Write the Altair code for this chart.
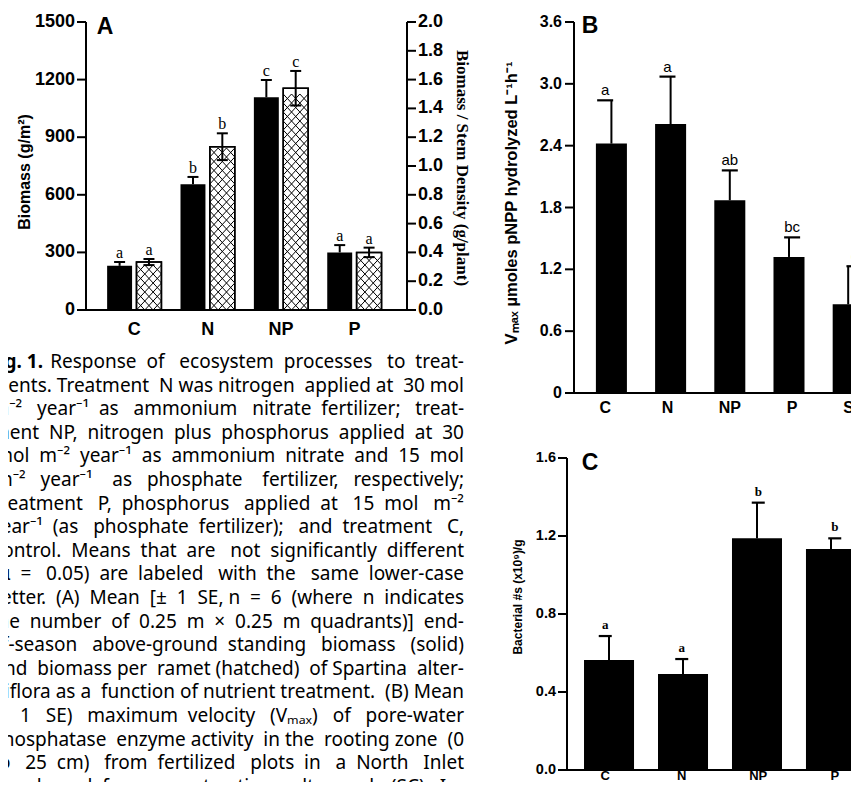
import altair as alt
import pandas as pd

W, H = 843, 774

# ---------------- data ----------------
catsA = ["C", "N", "NP", "P"]
biomass = [230, 655, 1108, 300]
biomass_se = [20, 38, 90, 38]
ratio = [0.333, 1.134, 1.54, 0.40]
ratio_se = [0.021, 0.093, 0.12, 0.033]
lettersA_solid = ["a", "b", "c", "a"]
lettersA_hatched = ["a", "b", "c", "a"]
ticksA_left = [0, 300, 600, 900, 1200, 1500]
ticksA_right = [0.0, 0.2, 0.4, 0.6, 0.8, 1.0, 1.2, 1.4, 1.6, 1.8, 2.0]
ticksA_right_labels = ["0.0", "0.2", "0.4", "0.6", "0.8", "1.0", "1.2", "1.4", "1.6", "1.8", "2.0"]

catsB = ["C", "N", "NP", "P", "SC"]
vmax = [2.42, 2.61, 1.87, 1.32, 0.86]
vmax_se = [0.42, 0.46, 0.29, 0.19, 0.37]
lettersB = ["a", "a", "ab", "bc", "c"]
ticksB = [0, 0.6, 1.2, 1.8, 2.4, 3.0, 3.6]
ticksB_labels = ["0", "0.6", "1.2", "1.8", "2.4", "3.0", "3.6"]

catsC = ["C", "N", "NP", "P"]
bacteria = [0.564, 0.492, 1.188, 1.133]
bacteria_se = [0.123, 0.077, 0.183, 0.055]
lettersC = ["a", "a", "b", "b"]
ticksC = [0.0, 0.4, 0.8, 1.2, 1.6]
ticksC_labels = ["0.0", "0.4", "0.8", "1.2", "1.6"]

caption_head = "Fig. 1."
caption_lines = [
    "Response of ecosystem processes to treat-",
    "ments. Treatment N was nitrogen applied at 30 mol",
    "m\u207b\u00b2 year\u207b\u00b9 as ammonium nitrate fertilizer; treat-",
    "ment NP, nitrogen plus phosphorus applied at 30",
    "mol m\u207b\u00b2 year\u207b\u00b9 as ammonium nitrate and 15 mol",
    "m\u207b\u00b2 year\u207b\u00b9 as phosphate fertilizer, respectively;",
    "treatment P, phosphorus applied at 15 mol m\u207b\u00b2",
    "year\u207b\u00b9 (as phosphate fertilizer); and treatment C,",
    "control. Means that are not significantly different",
    "(\u03b1 = 0.05) are labeled with the same lower-case",
    "letter. (A) Mean [\u00b1 1 SE, n = 6 (where n indicates",
    "the number of 0.25 m \u00d7 0.25 m quadrants)] end-",
    "of-season above-ground standing biomass (solid)",
    "and biomass per ramet (hatched) of Spartina alter-",
    "niflora as a function of nutrient treatment. (B) Mean",
    "(\u00b1 1 SE) maximum velocity (V\u2098\u2090\u2093) of pore-water",
    "phosphatase enzyme activity in the rooting zone (0",
    "to 25 cm) from fertilized plots in a North Inlet",
    "marsh and from a contrasting salt marsh (SC). In-",
]

# ---------------- layout ----------------
A_left, A_right, A_bottom, A_top = 78, 399, 302, 14
B_left, B_bottom, B_top = 566, 385, 14
C_left, C_bottom, C_top = 559, 762, 450
SANS = "Liberation Sans"
SERIF = "Liberation Serif"
CAP_FONT = "Noto Sans"
CAP_SIZE = 19
CAP_RIGHT = 456
CAP_LEFT = -13
CAP_FIRST_LEFT = 44

# approximate advance widths (1/1000 em) used only to justify caption lines
ADV = {' ': 260, '\u00a0': 260, 'a': 556, 'b': 613, 'c': 476, 'd': 613, 'e': 561, 'f': 336,
       'g': 547, 'h': 613, 'i': 258, 'j': 258, 'k': 525, 'l': 258, 'm': 930, 'n': 613,
       'o': 601, 'p': 613, 'q': 613, 'r': 408, 's': 478, 't': 353, 'u': 613, 'v': 500,
       'w': 778, 'x': 520, 'y': 501, 'z': 462, 'A': 633, 'B': 648, 'C': 631, 'D': 729,
       'E': 556, 'F': 516, 'I': 279, 'M': 907, 'N': 748, 'P': 603, 'S': 549, 'T': 556,
       'V': 592, '.': 266, ',': 266, ';': 266, '-': 322, '(': 296, ')': 296, '[': 328,
       ']': 328, '=': 572, '\u00b1': 572, '\u00d7': 572, '\u03b1': 600, '\u207b': 350,
       '\u00b2': 350, '\u00b9': 350, '\u2098': 450, '\u2090': 350, '\u2093': 350}
for d in "0123456789":
    ADV[d] = 572


def justify(line, target):
    natural = sum(ADV.get(ch, 560) for ch in line) * CAP_SIZE / 1000.0
    words = line.split(" ")
    gaps = len(words) - 1
    extra = target - natural
    if extra <= 0 or gaps == 0:
        return line
    n = int(round(extra / (0.26 * CAP_SIZE)))
    add = [n // gaps] * gaps
    rem = n % gaps
    for j in range(rem):
        add[int((j + 0.5) * gaps / rem)] += 1
    out = words[0]
    for g in range(gaps):
        out += " " + "\u00a0" * add[g] + words[g + 1]
    return out


caption_just = [justify(caption_lines[0], CAP_RIGHT - CAP_FIRST_LEFT)] + \
               [justify(l, CAP_RIGHT - CAP_LEFT) for l in caption_lines[1:]]

xA = alt.Scale(domain=[-0.658, 3.717], range=[A_left, A_right], nice=False, zero=False)
yA = alt.Scale(domain=[0, 1500], range=[A_bottom, A_top], nice=False, zero=False)
yA2 = alt.Scale(domain=[0, 2.0], range=[A_bottom, A_top], nice=False, zero=False)
xB = alt.Scale(domain=catsB, range=[B_left, B_left + 311.6], paddingInner=0.476, paddingOuter=0.37)
yB = alt.Scale(domain=[0, 3.6], range=[B_bottom, B_top], nice=False, zero=False)
xC = alt.Scale(domain=catsC, range=[C_left, C_left + 306], paddingInner=0.324, paddingOuter=0.23)
yC = alt.Scale(domain=[0, 1.6], range=[C_bottom, C_top], nice=False, zero=False)
yCap = alt.Scale(domain=[0, 18], range=[354, 354 + 18 * 23.6], nice=False, zero=False)

HSTEP = 0.0625  # hatch row height in right-axis units (~9 px)
HATCH = ("M-1,-0.36L-0.333,0.36M-1,0.36L-0.333,-0.36"
         "M-0.333,-0.36L0.333,0.36M-0.333,0.36L0.333,-0.36"
         "M0.333,-0.36L1,0.36M0.333,0.36L1,-0.36")
CAP = "M-1,0L1,0"
TICK_L = "M-1,0L0,0"
TICK_R = "M0,0L1,0"

layers = []

# ---------------- panel A ----------------
dfA = pd.DataFrame({"cat": catsA, "idx": list(range(len(catsA))), "biomass": biomass,
                    "bse": biomass_se, "ratio": ratio, "rse": ratio_se,
                    "ls": lettersA_solid, "lh": lettersA_hatched})
baseA = alt.Chart(dfA).transform_calculate(
    x0="datum.idx - 0.37", x1="datum.idx - 0.03", xs="datum.idx - 0.2",
    h0="datum.idx + 0.03", h1="datum.idx + 0.37", xh="datum.idx + 0.2",
    zero="0", btop="datum.biomass + datum.bse",
    rlo="datum.ratio - datum.rse", rtop="datum.ratio + datum.rse")

layers.append(baseA.mark_bar(color="black").encode(
    x=alt.X("x0:Q", scale=xA, axis=None), x2="x1:Q",
    y=alt.Y("biomass:Q", scale=yA, axis=None), y2="zero:Q"))
layers.append(baseA.mark_bar(fill="white", stroke="black", strokeWidth=1.5).encode(
    x=alt.X("h0:Q", scale=xA, axis=None), x2="h1:Q",
    y=alt.Y("ratio:Q", scale=yA2, axis=None), y2="zero:Q"))
layers.append(alt.Chart(dfA).transform_calculate(
    rows=f"sequence(0, floor(datum.ratio / {HSTEP}))").transform_flatten(["rows"]).transform_calculate(
    yc=f"(datum.rows + 0.5) * {HSTEP}", xc="datum.idx + 0.2").mark_point(
    shape=HATCH, size=625, filled=False, stroke="black", strokeWidth=1, opacity=1).encode(
    x=alt.X("xc:Q", scale=xA, axis=None), y=alt.Y("yc:Q", scale=yA2, axis=None)))
layers.append(baseA.mark_bar(fillOpacity=0, stroke="black", strokeWidth=1.5).encode(
    x=alt.X("h0:Q", scale=xA, axis=None), x2="h1:Q",
    y=alt.Y("ratio:Q", scale=yA2, axis=None), y2="zero:Q"))
# error bars
layers.append(baseA.mark_rule(color="black", strokeWidth=2).encode(
    x=alt.X("xs:Q", scale=xA, axis=None),
    y=alt.Y("biomass:Q", scale=yA, axis=None), y2="btop:Q"))
layers.append(baseA.mark_point(shape=CAP, size=121, filled=False, stroke="black", strokeWidth=2, opacity=1).encode(
    x=alt.X("xs:Q", scale=xA, axis=None), y=alt.Y("btop:Q", scale=yA, axis=None)))
layers.append(baseA.mark_rule(color="black", strokeWidth=2).encode(
    x=alt.X("xh:Q", scale=xA, axis=None),
    y=alt.Y("rlo:Q", scale=yA2, axis=None), y2="rtop:Q"))
layers.append(baseA.mark_point(shape=CAP, size=121, filled=False, stroke="black", strokeWidth=2, opacity=1).encode(
    x=alt.X("xh:Q", scale=xA, axis=None), y=alt.Y("rtop:Q", scale=yA2, axis=None)))
layers.append(baseA.mark_point(shape=CAP, size=121, filled=False, stroke="black", strokeWidth=2, opacity=1).encode(
    x=alt.X("xh:Q", scale=xA, axis=None), y=alt.Y("rlo:Q", scale=yA2, axis=None)))
# letters
layers.append(baseA.mark_text(font=SERIF, fontSize=16, baseline="alphabetic", dy=-4, color="black").encode(
    x=alt.X("xs:Q", scale=xA, axis=None), y=alt.Y("btop:Q", scale=yA, axis=None), text="ls:N"))
layers.append(baseA.mark_text(font=SERIF, fontSize=16, baseline="alphabetic", dy=-4, color="black").encode(
    x=alt.X("xh:Q", scale=xA, axis=None), y=alt.Y("rtop:Q", scale=yA2, axis=None), text="lh:N"))
# x labels
layers.append(baseA.mark_text(font=SANS, fontSize=18, fontWeight="bold", baseline="middle", color="black").encode(
    x=alt.X("idx:Q", scale=xA, axis=None), y=alt.value(322), text="cat:N"))
# axes
axA = pd.DataFrame({"lo": [ticksA_left[0]], "hi": [ticksA_left[-1]]})
layers.append(alt.Chart(axA).mark_rule(color="black", strokeWidth=2).encode(
    x=alt.value(A_left), y=alt.Y("lo:Q", scale=yA, axis=None), y2="hi:Q"))
layers.append(alt.Chart(axA).mark_rule(color="black", strokeWidth=2).encode(
    x=alt.value(A_right), y=alt.Y("lo:Q", scale=yA, axis=None), y2="hi:Q"))
layers.append(alt.Chart(axA).mark_rule(color="black", strokeWidth=2).encode(
    y=alt.value(A_bottom), x=alt.value(A_left), x2=alt.value(A_right)))
dfTAL = pd.DataFrame({"v": ticksA_left, "lab": [str(t) for t in ticksA_left]})
layers.append(alt.Chart(dfTAL).mark_point(shape=TICK_L, size=324, filled=False, stroke="black", strokeWidth=2, opacity=1).encode(
    x=alt.value(A_left), y=alt.Y("v:Q", scale=yA, axis=None)))
layers.append(alt.Chart(dfTAL).mark_text(font=SANS, fontSize=18, fontWeight="bold", align="right", baseline="middle", color="black").encode(
    x=alt.value(A_left - 11), y=alt.Y("v:Q", scale=yA, axis=None), text="lab:N"))
dfTAR = pd.DataFrame({"v": ticksA_right, "lab": ticksA_right_labels})
layers.append(alt.Chart(dfTAR).mark_point(shape=TICK_R, size=324, filled=False, stroke="black", strokeWidth=2, opacity=1).encode(
    x=alt.value(A_right), y=alt.Y("v:Q", scale=yA2, axis=None)))
layers.append(alt.Chart(dfTAR).mark_text(font=SANS, fontSize=18, fontWeight="bold", align="left", baseline="middle", color="black").encode(
    x=alt.value(A_right + 11), y=alt.Y("v:Q", scale=yA2, axis=None), text="lab:N"))

# ---------------- panel B ----------------
dfB = pd.DataFrame({"cat": catsB, "v": vmax, "se": vmax_se, "l": lettersB})
baseB = alt.Chart(dfB).transform_calculate(zero="0", top="datum.v + datum.se")
layers.append(baseB.mark_bar(color="black").encode(
    x=alt.X("cat:N", scale=xB, axis=None), y=alt.Y("v:Q", scale=yB, axis=None), y2="zero:Q"))
layers.append(baseB.mark_rule(color="black", strokeWidth=2).encode(
    x=alt.X("cat:N", scale=xB, axis=None), y=alt.Y("v:Q", scale=yB, axis=None), y2="top:Q"))
layers.append(baseB.mark_point(shape=CAP, size=256, filled=False, stroke="black", strokeWidth=2.2, opacity=1).encode(
    x=alt.X("cat:N", scale=xB, axis=None), y=alt.Y("top:Q", scale=yB, axis=None)))
layers.append(baseB.mark_text(font=SANS, fontSize=15, baseline="alphabetic", dy=-5, color="black").encode(
    x=alt.X("cat:N", scale=xB, axis=None), y=alt.Y("top:Q", scale=yB, axis=None), text="l:N"))
layers.append(baseB.mark_text(font=SANS, fontSize=16, fontWeight="bold", baseline="middle", color="black").encode(
    x=alt.X("cat:N", scale=xB, axis=None), y=alt.value(400), text="cat:N"))
axB = pd.DataFrame({"lo": [ticksB[0]], "hi": [ticksB[-1]]})
layers.append(alt.Chart(axB).mark_rule(color="black", strokeWidth=2).encode(
    x=alt.value(B_left), y=alt.Y("lo:Q", scale=yB, axis=None), y2="hi:Q"))
layers.append(alt.Chart(axB).mark_rule(color="black", strokeWidth=2).encode(
    y=alt.value(B_bottom), x=alt.value(B_left), x2=alt.value(W)))
dfTB = pd.DataFrame({"v": ticksB, "lab": ticksB_labels})
layers.append(alt.Chart(dfTB).mark_point(shape=TICK_L, size=324, filled=False, stroke="black", strokeWidth=2, opacity=1).encode(
    x=alt.value(B_left), y=alt.Y("v:Q", scale=yB, axis=None)))
layers.append(alt.Chart(dfTB).mark_text(font=SANS, fontSize=16, fontWeight="bold", align="right", baseline="middle", color="black").encode(
    x=alt.value(B_left - 12), y=alt.Y("v:Q", scale=yB, axis=None), text="lab:N"))

# ---------------- panel C ----------------
dfC = pd.DataFrame({"cat": catsC, "v": bacteria, "se": bacteria_se, "l": lettersC})
baseC = alt.Chart(dfC).transform_calculate(zero="0", top="datum.v + datum.se")
layers.append(baseC.mark_bar(color="black").encode(
    x=alt.X("cat:N", scale=xC, axis=None), y=alt.Y("v:Q", scale=yC, axis=None), y2="zero:Q"))
layers.append(baseC.mark_rule(color="black", strokeWidth=2).encode(
    x=alt.X("cat:N", scale=xC, axis=None), y=alt.Y("v:Q", scale=yC, axis=None), y2="top:Q"))
layers.append(baseC.mark_point(shape=CAP, size=169, filled=False, stroke="black", strokeWidth=2.2, opacity=1).encode(
    x=alt.X("cat:N", scale=xC, axis=None), y=alt.Y("top:Q", scale=yC, axis=None)))
layers.append(baseC.mark_text(font=SERIF, fontSize=13, fontWeight="bold", baseline="alphabetic", dy=-7, color="black").encode(
    x=alt.X("cat:N", scale=xC, axis=None), y=alt.Y("top:Q", scale=yC, axis=None), text="l:N"))
layers.append(baseC.mark_text(font=SANS, fontSize=13, fontWeight="bold", baseline="middle", color="black").encode(
    x=alt.X("cat:N", scale=xC, axis=None), y=alt.value(768), text="cat:N"))
axC = pd.DataFrame({"lo": [ticksC[0]], "hi": [ticksC[-1]]})
layers.append(alt.Chart(axC).mark_rule(color="black", strokeWidth=2).encode(
    x=alt.value(C_left), y=alt.Y("lo:Q", scale=yC, axis=None), y2="hi:Q"))
layers.append(alt.Chart(axC).mark_rule(color="black", strokeWidth=2).encode(
    y=alt.value(C_bottom), x=alt.value(C_left), x2=alt.value(W)))
dfTC = pd.DataFrame({"v": ticksC, "lab": ticksC_labels})
layers.append(alt.Chart(dfTC).mark_point(shape=TICK_L, size=324, filled=False, stroke="black", strokeWidth=2, opacity=1).encode(
    x=alt.value(C_left), y=alt.Y("v:Q", scale=yC, axis=None)))
layers.append(alt.Chart(dfTC).mark_text(font=SANS, fontSize=14.5, fontWeight="bold", align="right", baseline="middle", color="black").encode(
    x=alt.value(C_left - 11), y=alt.Y("v:Q", scale=yC, axis=None), text="lab:N"))

# ---------------- titles / panel letters ----------------
dfT = pd.DataFrame({
    "t": ["A", "B", "C", "Biomass (g/m\u00b2)",
          "V\u2098\u2090\u2093 \u00b5moles pNPP hydrolyzed L\u207b\u00b9h\u207b\u00b9",
          "Bacterial #s (x10\u2079)/g"],
})


def title(i, x, y, size, angle=0, font=SANS):
    return alt.Chart(dfT.iloc[[i]]).mark_text(font=font, fontSize=size, fontWeight="bold", angle=angle,
                                              align="center", baseline="middle", color="black").encode(
        x=alt.value(x), y=alt.value(y), text="t:N")


layers.append(title(0, 97, 19, 23))
layers.append(title(1, 582, 18, 23))
layers.append(title(2, 582, 455, 23))
layers.append(title(3, 17, 164, 16, angle=270))
layers.append(title(4, 504, 195, 16.5, angle=270))
layers.append(title(5, 510, 589, 12, angle=270))
dfRT = pd.DataFrame({"t": ["Biomass / Stem Density (g/plant)"]})
layers.append(alt.Chart(dfRT).mark_text(font=SERIF, fontSize=17, fontWeight="bold", angle=90,
                                        align="center", baseline="middle", color="black").encode(
    x=alt.value(454), y=alt.value(160), text="t:N"))

# ---------------- caption ----------------
dfCap = pd.DataFrame({"k": list(range(len(caption_just))), "t": caption_just})
layers.append(alt.Chart(dfCap).mark_text(font=CAP_FONT, fontSize=CAP_SIZE, align="right", baseline="middle", color="black").encode(
    x=alt.value(CAP_RIGHT), y=alt.Y("k:Q", scale=yCap, axis=None), text="t:N"))
dfHead = pd.DataFrame({"k": [0], "t": [caption_head]})
layers.append(alt.Chart(dfHead).mark_text(font=CAP_FONT, fontSize=CAP_SIZE, fontWeight="bold", align="right", baseline="middle", color="black").encode(
    x=alt.value(35), y=alt.Y("k:Q", scale=yCap, axis=None), text="t:N"))

chart = alt.layer(*layers).resolve_scale(x="independent", y="independent").properties(
    width=W, height=H, autosize=alt.AutoSizeParams(type="none"), padding=0
).configure_view(strokeWidth=0)

chart.save("out.html", embed_options={"renderer": "svg", "actions": False})
